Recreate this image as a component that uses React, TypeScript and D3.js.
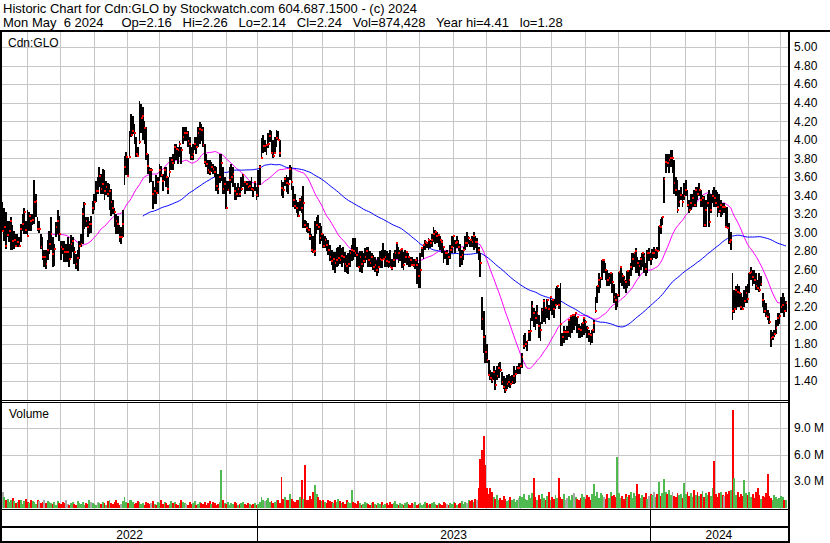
import React from 'react';
import * as d3 from 'd3';

// ---- Data (prices in cents, volume in units of 100,000 shares) ----
const highCents = [
  333,326,322,313,313,317,308,302,299,299, 295,309,320,327,313,324,322,320,320,357,
  342,317,313,299,295,281,281,292,302,317, 295,288,311,324,318,291,291,291,288,295,
  288,297,295,284,277,281,291,299,326,333, 317,317,313,318,334,342,356,360,371,363,
  369,367,356,353,352,347,335,327,320,318, 308,306,324,383,387,380,410,428,426,417,
  403,392,442,439,435,420,414,385,371,370, 356,349,362,360,374,372,363,371,371,360,
  382,382,385,396,396,392,399,392,414,414, 414,410,403,392,396,403,403,414,419,417,
  414,396,385,378,378,376,374,372,371,363, 385,385,371,360,356,356,371,374,371,353,
  349,353,349,360,363,356,356,356,356,360, 349,356,349,368,373,402,405,400,396,407,
  411,409,400,403,411,409,400,357,355,360, 362,360,373,371,350,342,335,333,337,339,
  350,314,312,310,305,299,296,313,317,319, 310,307,299,296,294,292,287,281,279,279,
  283,285,287,283,285,279,276,278,281,287, 294,294,285,278,280,280,278,283,285,285,
  280,278,276,274,271,274,280,281,289,281, 280,278,281,272,278,281,290,285,281,283,
  279,281,279,278,274,274,272,272,274,267, 278,285,288,292,290,294,292,299,306,303,
  301,299,296,292,285,280,281,278,287,296, 296,292,296,292,288,281,285,296,301,296,
  292,296,301,296,294,285,278,231,215,190, 180,163,152,150,156,152,156,159,161,150,
  145,143,147,148,145,147,156,152,156,159, 159,170,190,192,183,195,208,226,219,215,
  222,211,204,219,229,217,229,222,231,222, 229,240,242,240,246,192,199,195,199,206,
  210,211,211,213,206,202,199,202,208,206, 199,195,192,195,206,231,242,256,252,270,
  272,267,260,256,256,256,245,235,233,258, 263,256,253,249,259,260,267,278,278,283,
  274,270,274,278,278,267,281,283,278,282, 284,282,285,307,315,317,360,385,385,385,
  389,389,378,360,357,346,349,342,353,357, 346,335,342,342,346,349,349,353,346,341,
  339,335,342,346,342,346,349,346,344,342, 335,332,332,328,328,310,301,256,238,242,
  245,242,235,231,238,242,245,256,263,260, 260,256,249,256,253,235,227,224,217,213,
  195,193,195,206,213,213,231,235,231,226,
];

const lowCents = [
  302,291,282,295,290,281,281,282,284,284, 284,290,302,299,299,295,302,302,308,309,
  317,302,300,282,270,263,261,270,277,281, 263,264,295,299,291,270,277,268,268,268,
  263,273,279,266,261,259,272,284,288,304, 306,295,299,300,320,324,333,342,349,342,
  342,335,340,338,324,318,320,306,299,299, 290,288,295,351,362,360,381,403,406,396,
  381,381,396,407,400,395,378,363,353,355, 325,331,331,342,356,360,345,356,349,342,
  360,367,367,374,378,374,381,374,396,399, 399,392,385,378,378,389,385,392,396,399,
  392,374,371,363,362,365,363,360,345,342, 353,356,342,342,325,345,342,353,349,335,
  335,338,338,345,349,342,345,345,345,345, 338,345,335,338,351,380,386,387,384,391,
  398,386,380,386,392,400,382,339,337,350, 344,342,357,346,328,325,321,317,323,321,
  305,305,301,300,292,279,278,275,299,303, 288,291,283,283,280,276,269,265,260,256,
  263,264,266,263,267,258,256,255,263,269, 271,274,263,263,258,256,263,267,271,263,
  263,263,260,258,253,256,262,262,271,263, 263,262,263,260,263,263,272,267,269,262,
  260,267,265,263,263,264,263,261,245,240, 240,274,272,281,283,281,283,285,290,288,
  289,285,281,278,267,272,265,265,272,278, 285,278,283,280,263,265,270,281,285,288,
  285,285,281,283,278,270,252,195,170,160, 159,145,141,138,141,130,141,143,150,136,
  132,127,132,134,133,137,137,138,148,148, 148,154,175,177,172,183,183,205,198,195,
  201,186,183,201,204,201,208,206,215,211, 208,218,222,218,178,178,181,184,184,188,
  186,192,195,199,192,186,186,188,190,192, 186,182,179,181,192,213,224,235,240,249,
  256,249,242,242,245,235,224,217,220,231, 246,242,239,235,240,242,253,260,263,256,
  256,253,260,263,256,253,256,269,265,270, 273,272,273,280,299,308,332,364,371,364,
  371,364,342,339,321,328,335,328,335,339, 328,321,324,328,328,328,335,339,328,328,
  306,306,328,306,321,332,328,328,317,321, 317,319,321,306,306,288,281,206,213,217,
  220,220,217,217,220,224,224,235,249,242, 245,238,238,236,242,220,213,209,206,202,
  177,184,188,191,199,202,213,213,209,214,
];

const closeCents = [
  302,306,286,297,302,313,291,292,286,290, 286,304,309,322,303,296,318,313,314,333,
  334,304,304,284,274,274,266,281,288,299, 277,282,306,313,299,284,282,279,279,279,
  272,288,291,279,266,273,286,288,320,331, 313,306,309,309,326,333,345,345,361,347,
  352,345,349,342,345,333,326,322,313,309, 295,295,309,371,381,361,381,405,409,407,
  385,383,398,423,426,413,385,372,367,367, 342,345,343,354,367,362,356,367,360,347,
  365,378,375,392,390,389,395,389,403,407, 407,399,395,381,385,396,392,407,412,411,
  394,376,374,367,365,371,369,365,350,347, 360,375,347,352,327,346,357,360,363,345,
  342,347,342,347,362,355,352,349,350,347, 346,354,340,350,371,380,393,393,394,395,
  404,386,383,386,402,400,386,348,346,358, 353,352,369,355,335,329,326,318,335,327,
  332,308,305,303,296,281,279,280,308,306, 294,298,286,292,287,281,274,269,272,267,
  271,273,270,275,274,266,264,266,278,281, 280,278,276,263,274,266,269,274,280,271,
  267,274,263,265,260,263,272,271,272,274, 269,268,263,262,270,278,289,278,281,282,
  265,274,279,274,271,265,265,270,265,253, 260,283,287,290,289,292,289,292,299,301,
  296,297,292,290,285,278,278,274,281,285, 296,289,290,285,274,276,281,289,289,294,
  292,290,296,290,290,281,267,207,188,171, 163,147,143,141,150,136,145,154,152,139,
  134,130,137,139,137,139,146,148,154,154, 156,166,178,180,183,193,194,221,213,208,
  213,199,195,217,226,219,227,218,231,227, 218,222,242,222,201,188,193,193,193,206,
  210,211,211,213,209,196,195,203,208,204, 197,191,190,195,203,215,242,249,251,270,
  270,260,249,251,256,247,231,227,233,258, 263,253,249,247,259,249,263,272,278,280,
  267,264,272,278,275,261,278,278,272,278, 278,281,280,307,306,317,358,376,375,378,
  380,380,353,346,324,333,341,333,339,346, 330,324,332,337,330,346,342,346,335,337,
  308,324,332,311,324,339,337,332,328,323, 330,328,328,306,305,290,292,215,218,238,
  236,235,220,218,226,235,229,256,258,252, 249,242,240,238,245,227,215,210,209,204,
  186,188,191,197,208,210,220,222,216,224,
];

const volumeHundredK = [
  17,12,8,10,6,9,11,7,5,6,8,9,4,7,10,6,5,8,7,6,4,9,7,5,6,8,5,7,6,
  5,4,6,3,7,5,4,6,5,8,4,3,5,6,4,3,7,5,4,6,3,5,4,8,6,5,4,3,6,5,
  4,6,5,3,7,9,5,4,6,8,5,3,4,7,12,6,5,9,8,6,4,5,7,6,4,5,3,6,5,4,
  5,7,4,3,6,5,8,4,6,5,3,4,7,5,6,4,3,5,8,6,5,4,3,6,4,5,7,3,4,6,
  5,4,6,3,5,7,4,6,5,3,4,6,43,8,5,4,6,3,5,4,6,5,3,4,5,6,4,3,5,4,
  3,4,5,3,4,6,12,9,7,8,11,6,7,5,6,9,8,5,35,10,12,8,9,15,10,7,6,8,9,12,
  31,10,48,8,9,13,10,18,25,15,12,9,7,8,6,5,9,7,6,5,8,6,10,7,5,6,4,8,6,5,
  20,6,5,4,7,5,3,4,6,5,4,3,5,6,4,3,5,4,6,3,4,5,3,6,4,5,7,4,3,5,
  4,3,5,6,4,3,5,4,6,3,4,5,3,4,6,5,3,4,5,6,4,3,5,4,3,6,5,4,3,5,
  4,6,5,3,4,5,7,4,6,5,8,7,9,6,10,8,
  22,55,65,81,48,22,
  15,22,18,12,10,14,9,11,8,13,10,7,9,12,8,10,6,9,11,13,12,15,10,9,14,11,16,33,
  12,9,14,10,15,11,8,13,17,9,12,10,14,11,33,12,10,15,9,11,13,8,14,16,12,10,9,11,15,12,
  10,14,12,9,15,27,13,18,11,16,14,12,10,15,11,17,13,14,12,57,16,11,13,10,15,12,14,18,11,16,
  13,27,15,11,14,12,16,10,13,15,14,17,12,15,29,13,16,32,18,15,20,14,17,13,12,16,14,15,11,28,
  15,18,13,16,12,20,14,17,13,15,19,12,16,14,18,13,22,53,15,12,16,18,14,13,17,15,19,20,
  110,33,14,18,12,15,13,31,16,14,18,12,15,11,17,22,14,10,13,12,16,38,13,11,9,14,12,10,11,13,12,9,9,
];

// first trading bar of each month (index into the bar arrays)
const monthStartBars = [15,35,55,75,94,114,134,153,174,192,211,230,250,270,290,310,329,349,369,388,409,427,447,466];
const yearLabels = ['2022', '2023', '2024'];
const yearStartBars = [0, 153, 388];

const priceTicks = [1.4,1.6,1.8,2.0,2.2,2.4,2.6,2.8,3.0,3.2,3.4,3.6,3.8,4.0,4.2,4.4,4.6,4.8,5.0];
const volumeTicks = [3e6, 6e6, 9e6];
const maPeriods = [28, 85];
const maColors = ['#ff00ff', '#0000ff'];

const symbol = 'Cdn:GLO';
const headerLine1 = 'Historic Chart for Cdn:GLO by Stockwatch.com 604.687.1500 - (c) 2024';
const headerLine2 = 'Mon May  6 2024     Op=2.16   Hi=2.26   Lo=2.14   Cl=2.24   Vol=874,428   Year hi=4.41   lo=1.28';

const FONT = "'Liberation Sans', Arial, Helvetica, sans-serif";
const GRID = '#c6c6c6';

export default function App() {
  const n = closeCents.length;
  const bars = closeCents.map((c, i) => {
    const prev = i > 0 ? closeCents[i - 1] : c;
    return {
      i,
      close: c / 100,
      high: Math.max(highCents[i], c) / 100,
      low: Math.min(lowCents[i], c) / 100,
      vol: (volumeHundredK[i] ?? 0) * 1e5,
      dir: c > prev ? 1 : c < prev ? -1 : 0,
    };
  });

  const axisX = 788;
  const priceTop = 32, priceBottom = 400;
  const volTop = 402, volBottom = 509;

  const x = d3.scaleLinear().domain([0, n - 1]).range([2.5, 786]);
  const yP = d3.scaleLinear().domain([1.4, 5.0]).range([381.1, 47]);
  const yV = d3.scaleLinear().domain([0, 12e6]).range([507.5, 401.5]);

  const sma = (period: number) =>
    bars.slice(period - 1).map((b, k) => ({
      i: b.i,
      v: d3.mean(bars.slice(k, k + period), (d) => d.close) as number,
    }));
  const line = d3
    .line<{ i: number; v: number }>()
    .x((d) => x(d.i))
    .y((d) => yP(d.v));

  const gridXs = monthStartBars.map((m) => Math.round(x(m - 0.5)) + 0.5);
  const yearBounds = yearStartBars.map((s, k) => ({
    label: yearLabels[k],
    x0: k === 0 ? 2 : x(s - 0.5),
    x1: k < yearStartBars.length - 1 ? x(yearStartBars[k + 1] - 0.5) : axisX,
  }));

  const volColor = (d: number) => (d > 0 ? '#4fba4f' : d < 0 ? '#ff0000' : '#a8a8a8');

  return (
    <svg
      width={830}
      height={543}
      style={{ position: 'absolute', left: 0, top: 0, background: '#fff' }}
      fontFamily={FONT}
    >
      <rect x={0} y={0} width={830} height={543} fill="#fff" />

      {/* header */}
      <text x={3} y={12.5} fontSize={13} fill="#000" xmlSpace="preserve" style={{ whiteSpace: 'pre' }}>
        {headerLine1}
      </text>
      <text x={3} y={26.5} fontSize={13} fill="#000" xmlSpace="preserve" style={{ whiteSpace: 'pre' }}>
        {headerLine2}
      </text>

      {/* grids */}
      <g shapeRendering="crispEdges" stroke={GRID} strokeWidth={1}>
        {priceTicks.map((t) => (
          <line key={'hp' + t} x1={2} x2={axisX} y1={Math.round(yP(t)) + 0.5} y2={Math.round(yP(t)) + 0.5} />
        ))}
        {gridXs.map((gx, k) => (
          <line key={'vp' + k} x1={gx} x2={gx} y1={priceTop} y2={priceBottom} />
        ))}
        {volumeTicks.map((t) => (
          <line key={'hv' + t} x1={2} x2={axisX} y1={Math.round(yV(t)) + 0.5} y2={Math.round(yV(t)) + 0.5} />
        ))}
        {gridXs.map((gx, k) => (
          <line key={'vv' + k} x1={gx} x2={gx} y1={volTop} y2={volBottom} />
        ))}
      </g>

      {/* moving averages */}
      {maPeriods.map((p, k) => (
        <path key={'ma' + p} d={line(sma(p)) || ''} fill="none" stroke={maColors[k]} strokeWidth={1} />
      ))}

      {/* price bars */}
      <g shapeRendering="crispEdges">
        {bars.map((b) => (
          <rect
            key={'b' + b.i}
            x={x(b.i) - 0.9}
            y={yP(b.high)}
            width={1.8}
            height={Math.max(1, yP(b.low) - yP(b.high))}
            fill="#000"
          />
        ))}
        {bars.map((b) => (
          <rect key={'c' + b.i} x={x(b.i) - 0.4} y={yP(b.close) - 1} width={1.8} height={2} fill="#ff0000" />
        ))}
      </g>

      {/* volume bars */}
      <g shapeRendering="crispEdges">
        {bars.map((b) => (
          <rect
            key={'v' + b.i}
            x={x(b.i) - 0.9}
            y={yV(b.vol)}
            width={1.9}
            height={yV(0) - yV(b.vol)}
            fill={volColor(b.dir)}
          />
        ))}
      </g>

      {/* frame */}
      <g shapeRendering="crispEdges" fill="#000">
        <rect x={0} y={29.5} width={830} height={2.5} />
        <rect x={0} y={30} width={2} height={513} />
        <rect x={axisX} y={30} width={2} height={513} />
        <rect x={0} y={400} width={axisX + 2} height={1} />
        <rect x={0} y={402} width={axisX + 2} height={1} />
        <rect x={0} y={508.5} width={axisX + 2} height={1.6} />
        <rect x={0} y={526.2} width={axisX + 2} height={1.8} />
        <rect x={0} y={541} width={axisX + 2} height={2} />
        {yearBounds.slice(1).map((yb) => (
          <rect key={'ys' + yb.label} x={Math.round(yb.x0) - 0.5} y={509} width={1.6} height={33} />
        ))}
      </g>

      {/* labels */}
      <text x={8} y={46.5} fontSize={12} fill="#000">{symbol}</text>
      <text x={9} y={417.5} fontSize={12} fill="#000">Volume</text>

      {priceTicks.map((t) => (
        <text key={'pl' + t} x={794} y={yP(t)} dy="0.36em" fontSize={12} fill="#000">
          {t.toFixed(2)}
        </text>
      ))}
      {volumeTicks.map((t) => (
        <text key={'vl' + t} x={794} y={yV(t)} dy="0.36em" fontSize={12} fill="#000">
          {(t / 1e6).toFixed(1) + ' M'}
        </text>
      ))}
      {yearBounds.map((yb) => (
        <text key={'yl' + yb.label} x={(yb.x0 + yb.x1) / 2} y={539} fontSize={12} textAnchor="middle" fill="#000">
          {yb.label}
        </text>
      ))}
    </svg>
  );
}
